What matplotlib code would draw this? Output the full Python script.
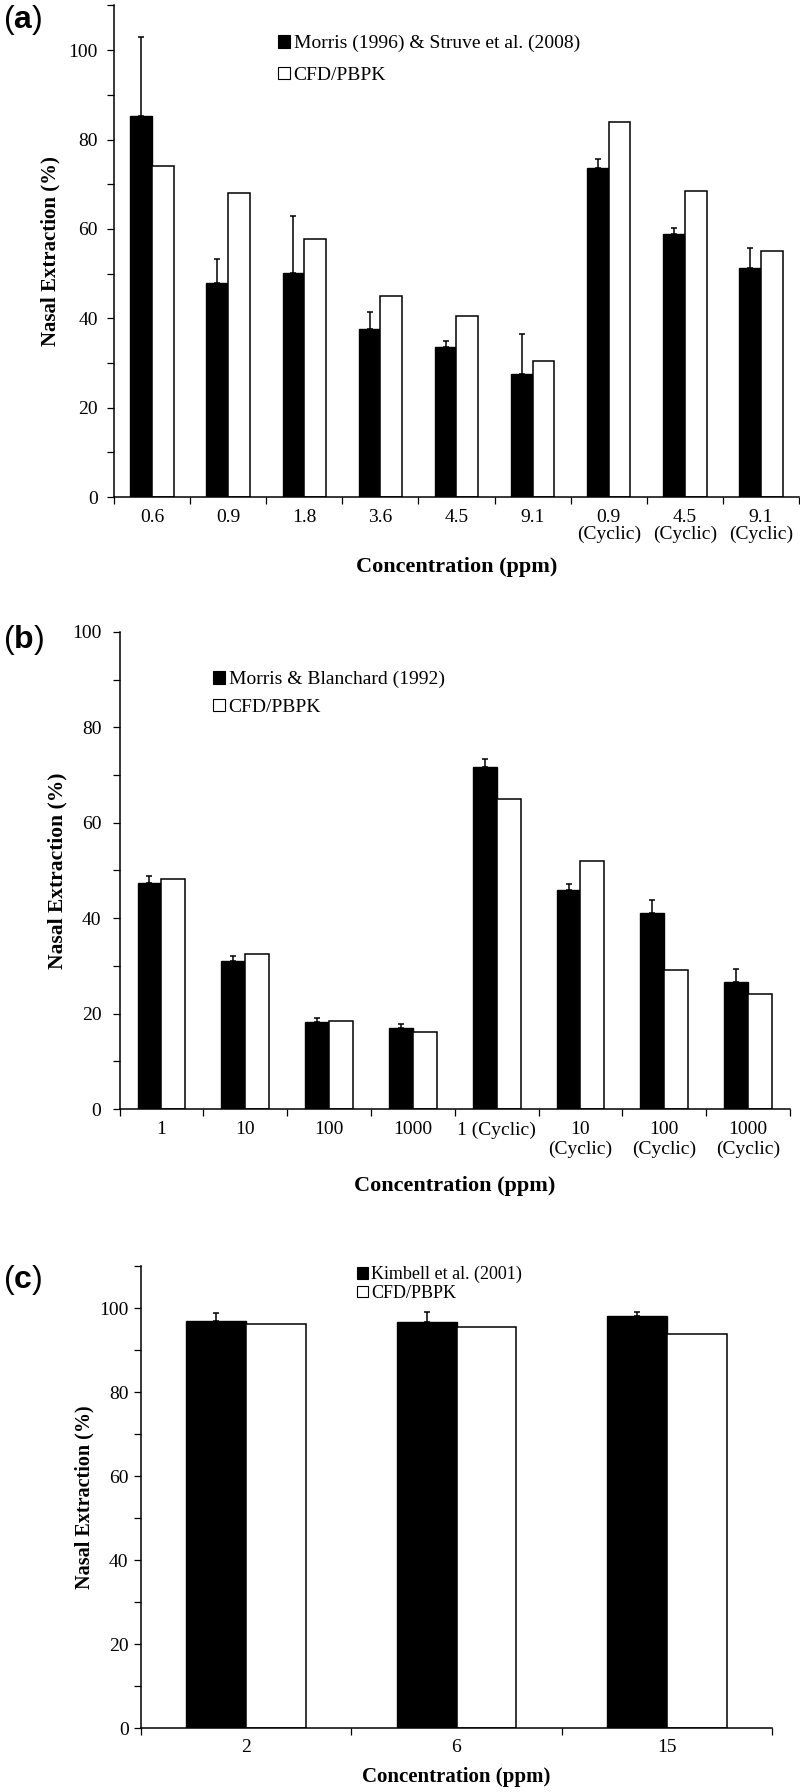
import matplotlib
matplotlib.use('Agg')
import matplotlib.pyplot as plt
from matplotlib.patches import Patch
from matplotlib.ticker import MultipleLocator
import numpy as np

plt.rcParams['font.family'] = ['Liberation Serif', 'DejaVu Serif']
plt.rcParams['mathtext.fontset'] = 'custom'
plt.rcParams['mathtext.rm'] = 'Liberation Sans'
plt.rcParams['mathtext.bf'] = 'Liberation Sans:bold'

# ---------------- data ----------------
a_categories = ['0.6', '0.9', '1.8', '3.6', '4.5', '9.1',
                '0.9\n(Cyclic)', '4.5\n(Cyclic)', '9.1\n(Cyclic)']
a_exp = [85.2, 48.0, 50.1, 37.7, 33.5, 27.6, 73.7, 58.9, 51.2]
a_exp_err = [17.7, 5.3, 12.7, 3.8, 1.5, 8.8, 2.0, 1.2, 4.5]
a_model = [74.0, 68.1, 57.7, 45.0, 40.5, 30.5, 84.0, 68.4, 55.0]
a_exp_label = 'Morris (1996) & Struve et al. (2008)'

b_categories = ['1', '10', '100', '1000', '1 (Cyclic)',
                '10\n(Cyclic)', '100\n(Cyclic)', '1000\n(Cyclic)']
b_exp = [47.3, 31.0, 18.3, 17.0, 71.8, 45.9, 41.0, 26.6]
b_exp_err = [1.5, 1.0, 0.7, 0.9, 1.5, 1.2, 2.8, 2.8]
b_model = [48.2, 32.5, 18.5, 16.2, 65.0, 52.0, 29.1, 24.2]
b_exp_label = 'Morris & Blanchard (1992)'

c_categories = ['2', '6', '15']
c_exp = [96.9, 96.7, 98.1]
c_exp_err = [1.9, 2.3, 1.0]
c_model = [96.3, 95.4, 93.7]
c_exp_label = 'Kimbell et al. (2001)'

model_label = 'CFD/PBPK'

# ---------------- figure ----------------
W, H = 800, 1792
fig = plt.figure(figsize=(W / 100, H / 100), dpi=100)


def fx(px):
    return px / W


def fy(py):
    return 1 - py / H


def panel(rect, cats, exp, err, model, exp_label, ymax, letter,
          letter_top, leg_pos, leg_fs, leg_spacing, tick_pad_x, tick_pad_y,
          linesp, xlab_y, ylab_x, xlab_fs, ylab_fs):
    left, right, top, bottom = rect
    ax = fig.add_axes([fx(left), fy(bottom), fx(right - left), (bottom - top) / H])
    n = len(cats)
    x = np.arange(n)
    w = 0.285
    ax.bar(x - w / 2, exp, w, color='black', edgecolor='black', linewidth=1.0, zorder=2)
    ax.bar(x + w / 2, model, w, color='white', edgecolor='black', linewidth=1.1, zorder=2)
    ax.errorbar(x - w / 2, exp, yerr=[np.zeros(n), err], fmt='none', ecolor='black',
                elinewidth=1.1, capsize=2.4, capthick=1.1, zorder=3)
    ax.set_xlim(-0.5, n - 0.5)
    ax.set_ylim(0, ymax)
    for s in ['top', 'right']:
        ax.spines[s].set_visible(False)
    for s in ['left', 'bottom']:
        ax.spines[s].set_linewidth(1.1)
    ax.yaxis.set_major_locator(MultipleLocator(20))
    ax.yaxis.set_minor_locator(MultipleLocator(10))
    ax.tick_params(axis='y', which='both', direction='out', length=5, width=0.9,
                   labelsize=14, pad=tick_pad_y)
    ax.set_xticks(x, cats, linespacing=linesp)
    ax.set_xticks(np.arange(n + 1) - 0.5, minor=True)
    ax.tick_params(axis='x', which='major', length=0, labelsize=14, pad=tick_pad_x)
    ax.tick_params(axis='x', which='minor', direction='out', length=5, width=0.9)
    ax.set_xlabel('Concentration (ppm)', fontsize=xlab_fs, fontweight='bold')
    ax.xaxis.set_label_coords(0.5, xlab_y)
    ax.xaxis.label.set_verticalalignment('center')
    ax.set_ylabel('Nasal Extraction (%)', fontsize=ylab_fs, fontweight='bold')
    ax.yaxis.set_label_coords(ylab_x, 0.5)
    ax.yaxis.label.set_verticalalignment('center')

    handles = [Patch(facecolor='black', edgecolor='black', linewidth=0.8),
               Patch(facecolor='white', edgecolor='black', linewidth=0.8)]
    fig.legend(handles, [exp_label, model_label], loc='upper left',
               bbox_to_anchor=(fx(leg_pos[0]), fy(leg_pos[1])),
               bbox_transform=fig.transFigure, frameon=False,
               handlelength=0.6, handleheight=0.6, handletextpad=0.2,
               labelspacing=leg_spacing, borderpad=0, borderaxespad=0,
               prop={'family': 'Liberation Serif', 'size': leg_fs})
    fig.text(fx(3), fy(letter_top), r'$\mathrm{(}\mathbf{%s}\mathrm{)}$' % letter,
             fontsize=23, ha='left', va='top')
    return ax


panel((114, 799, 5.5, 497), a_categories, a_exp, a_exp_err, a_model, a_exp_label,
      110, 'a', 3, (278, 35), 14, 0.75, 9, 6.5, 0.95, -0.142, -0.092, 16, 15)
panel((119.5, 790, 632, 1109), b_categories, b_exp, b_exp_err, b_model, b_exp_label,
      100, 'b', 623, (213, 671), 14, 0.55, 9, 8, 1.15, -0.162, -0.093, 16, 15.5)
panel((141, 772, 1266, 1728), c_categories, c_exp, c_exp_err, c_model, c_exp_label,
      110, 'c', 1263, (357, 1266), 13, 0.08, 8, 4, 1.0, -0.106, -0.089, 15, 14.5)

fig.savefig('out.png', dpi=100, facecolor='white')
